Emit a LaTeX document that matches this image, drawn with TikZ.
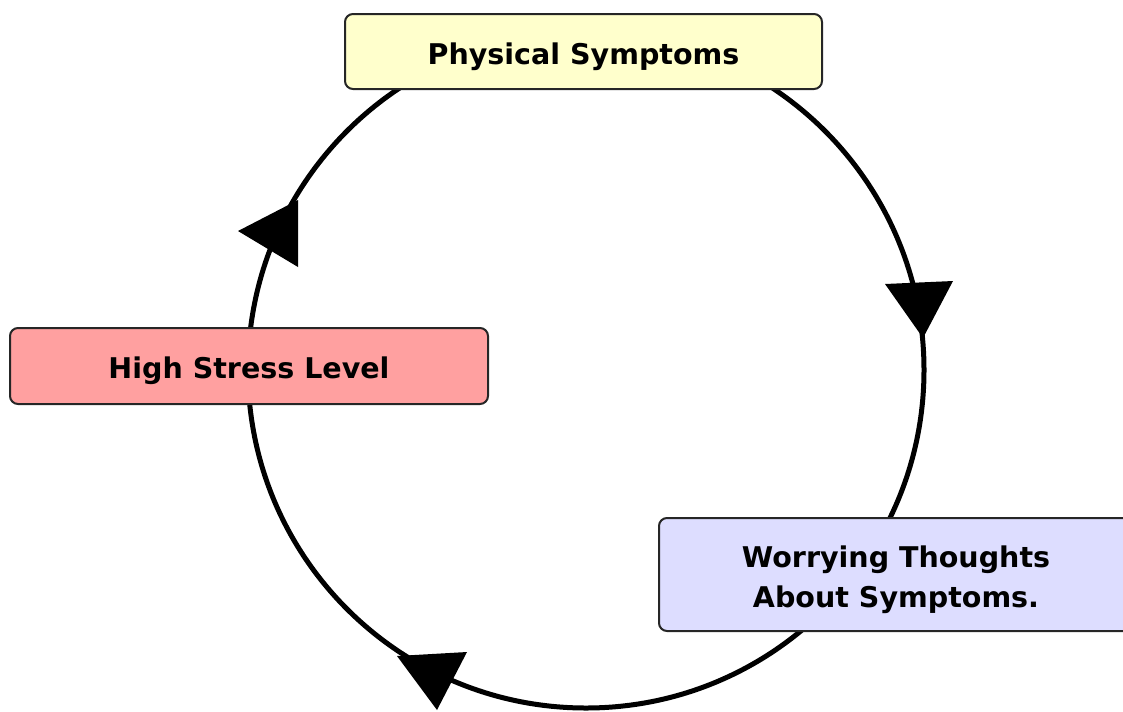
\documentclass[tikz,border=0pt]{standalone}
\usepackage{fontspec}
\setmainfont{DejaVu Sans}
\definecolor{symptomyellow}{RGB}{255,255,204}
\definecolor{stressred}{RGB}{255,160,160}
\definecolor{worrylilac}{RGB}{221,221,255}

\begin{document}
\begin{tikzpicture}[x=0.75pt,y=-0.75pt,
        cyclebox/.style={draw=black!85, line width=1.5pt, rounded corners=6pt, inner sep=0pt, align=center,
            font=\fontsize{21.4}{30}\selectfont\bfseries},
        cycleline/.style={line width=3.75pt}]
            \useasboundingbox (0,0) rectangle (1123,711);
            \coordinate (centre) at (586,370);
            \draw[cycleline] (centre) circle (338);
            \fill (885,284) -- (953,281) -- (923,338) -- cycle;
            \fill (397,656) -- (467,652) -- (437,710) -- cycle;
            \fill (298,200) -- (298,267) -- (238,231) -- cycle;
            \node[cyclebox, fill=symptomyellow, minimum width=357.75pt, minimum height=56.25pt] at (583.5,51.5) (symptoms) {\rule{0pt}{23.5pt}Physical Symptoms};
            \node[cyclebox, fill=stressred, minimum width=358.5pt, minimum height=57pt] at (249,366) (stress) {\rule{0pt}{23.5pt}High Stress Level};
            \node[cyclebox, fill=worrylilac, minimum width=355.5pt, minimum height=84.75pt] at (896,574.5) (worry) {\rule{0pt}{23.5pt}Worrying Thoughts\\About Symptoms.};
        \end{tikzpicture}
\end{document}
